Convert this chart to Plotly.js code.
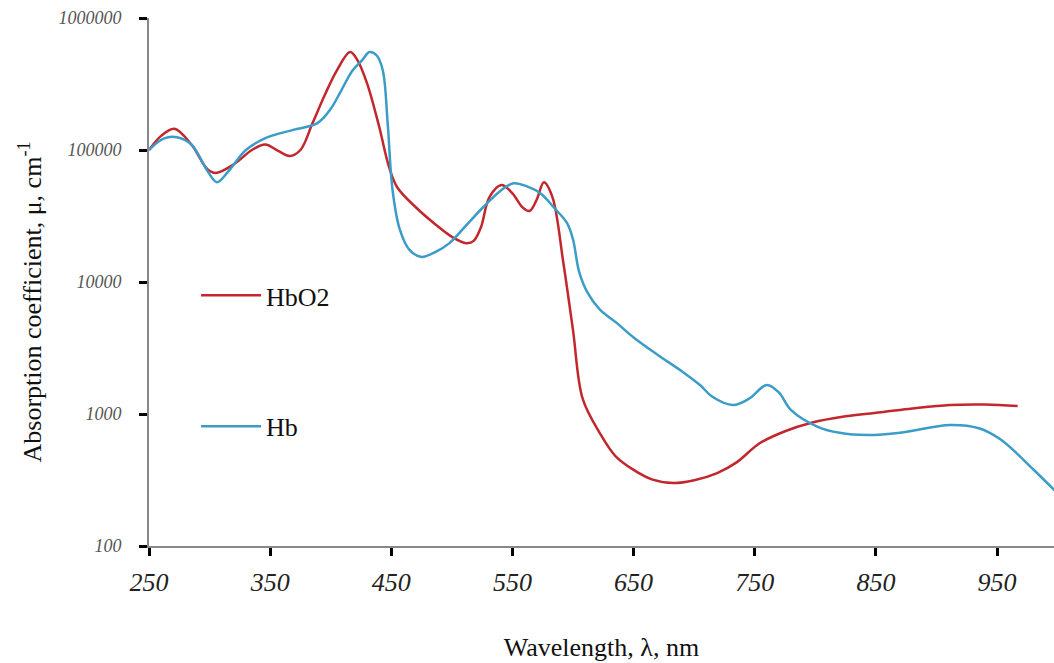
<!DOCTYPE html>
<html>
<head>
<meta charset="utf-8">
<script src="https://cdn.plot.ly/plotly-3.0.1.min.js"></script>
<style>html,body{margin:0;padding:0;background:#fff}#chart{width:1054px;height:663px}</style>
</head>
<body>
<div id="chart"></div>
<script>
const hbo2Wavelength = [250,260,271,285,298,305,320,335,346,357,366,375,385,395,405,416,422,430,440,448,455,470,485,500,512,518,524,531,541,550,558,564,570,576,583,592,600,608,622,635,650,665,683,700,719,735,754,775,796,825,856,880,911,940,967];
const hbo2Values = [100000,128000,145000,110000,72000,67000,78000,100000,110000,98000,90000,100000,160000,260000,400000,552000,480000,320000,150000,75000,52000,37000,28000,22000,19700,20500,26000,44000,54300,47000,37000,34500,42000,57000,44000,14000,4300,1300,720,480,377,320,300,315,357,430,600,740,855,960,1035,1100,1170,1180,1150];

const hbWavelength = [250,262,273,285,298,306,315,330,347,369,389,400,408,418,426,432,438,443,447,451,457,465,475,487,498,512,526,540,551,562,573,585,595,600,605,612,622,636,650,670,690,705,715,732,745,760,770,780,802,820,843,870,911,935,953,980,1000];
const hbValues = [100000,122000,125000,110000,70000,57000,68000,100000,124000,142000,160000,205000,275000,400000,480000,552000,520000,400000,160000,50000,25000,17500,15500,17000,19700,27000,37000,49000,56000,53000,47000,36000,28000,21000,12000,8300,6200,4900,3800,2800,2100,1650,1350,1170,1300,1660,1450,1070,800,720,692,720,826,780,640,380,250];

const xTickVals = [250,350,450,550,650,750,850,950];
const xTickText = ['250','350','450','550','650','750','850','950'];
const yTickVals = [100,1000,10000,100000,1000000];
const yTickText = ['100','1000','10000','100000','1000000'];
const yTitle = 'Absorption coefficient, μ, cm<sup>-1</sup>';
const xTitle = 'Wavelength, λ, nm';

const serif = '"Liberation Serif", "Times New Roman", serif';

const traces = [
  {x: hbo2Wavelength, y: hbo2Values, name: 'HbO2', type: 'scatter', mode: 'lines',
   line: {color: '#c1272d', width: 2.5, shape: 'spline', smoothing: 1}, legendgroup: 'a'},
  {x: hbWavelength, y: hbValues, name: 'Hb', type: 'scatter', mode: 'lines',
   line: {color: '#3b9cc8', width: 2.5, shape: 'spline', smoothing: 1}, legendgroup: 'b'}
];

const layout = {
  width: 1054, height: 663,
  margin: {l: 149, r: 0, t: 18, b: 117},
  paper_bgcolor: '#fff', plot_bgcolor: '#fff',
  font: {family: serif, color: '#000'},
  showlegend: true,
  legend: {x: 0.052, y: 0.519, xanchor: 'left', yanchor: 'top', bgcolor: 'rgba(0,0,0,0)',
           font: {family: serif, size: 26, color: '#111'}, tracegroupgap: 94, itemwidth: 60,
           traceorder: 'grouped'},
  annotations: [
    {text: yTitle, xref: 'paper', yref: 'paper', x: -0.131, y: 0.462, xanchor: 'center', yanchor: 'middle',
     textangle: -90, showarrow: false, font: {family: serif, size: 26, color: '#111'}}
  ],
  xaxis: {
    type: 'linear', range: [250, 997], tickvals: xTickVals, ticktext: xTickText,
    showline: true, linecolor: '#888', linewidth: 2, showgrid: false, zeroline: false,
    ticks: 'outside', ticklen: 8, tickwidth: 3, tickcolor: '#000',
    tickfont: {family: serif, size: 26, color: '#222', style: 'italic'}, ticklabelstandoff: 4,
    title: {text: xTitle, font: {family: serif, size: 26, color: '#111'}, standoff: 42}
  },
  yaxis: {
    type: 'log', range: [2, 6], tickvals: yTickVals, ticktext: yTickText,
    showline: true, linecolor: '#888', linewidth: 2, showgrid: false, zeroline: false,
    ticks: 'outside', ticklen: 8, tickwidth: 3, tickcolor: '#000',
    tickfont: {family: serif, size: 18, color: '#555', style: 'italic'}, ticklabelstandoff: 14
  }
};

Plotly.newPlot('chart', traces, layout, {displayModeBar: false, staticPlot: true});
</script>
</body>
</html>
